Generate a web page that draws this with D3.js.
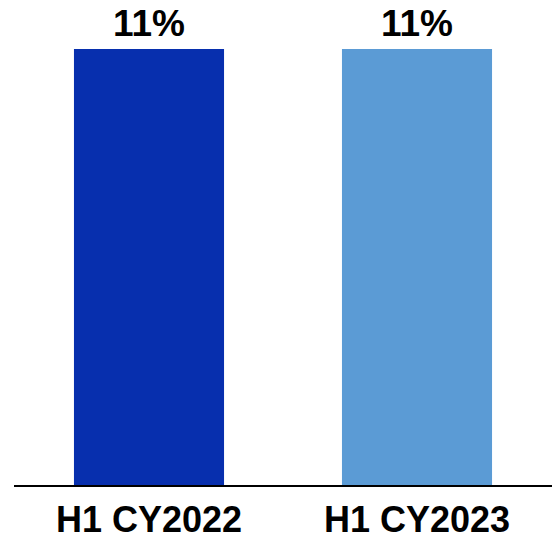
<!DOCTYPE html>
<html>
<head>
<meta charset="utf-8">
<script src="https://cdn.jsdelivr.net/npm/d3@7"></script>
<style>
  html, body { margin: 0; padding: 0; background: #fff; }
  svg { display: block; font-family: "Liberation Sans", Arial, sans-serif; }
</style>
</head>
<body>
<script>
const categories = ["H1 CY2022", "H1 CY2023"];
const values = [11, 11];
const valueLabels = ["11%", "11%"];
const colors = ["#072FAE", "#5B9BD5"];

const W = 552, H = 540;
const svg = d3.select("body").append("svg").attr("width", W).attr("height", H);

const x = d3.scaleBand().domain(categories).range([15, 551])
  .paddingInner(0.44).paddingOuter(0.22);
const y = d3.scaleLinear().domain([0, 11]).range([485, 49]);

svg.selectAll("rect.bar").data(categories).enter().append("rect")
  .attr("class", "bar")
  .attr("x", d => x(d))
  .attr("width", x.bandwidth())
  .attr("y", (d, i) => y(values[i]))
  .attr("height", (d, i) => y(0) - y(values[i]))
  .attr("fill", (d, i) => colors[i]);

svg.selectAll("text.val").data(categories).enter().append("text")
  .attr("class", "val")
  .attr("x", d => x(d) + x.bandwidth() / 2)
  .attr("y", (d, i) => y(values[i]) - 13)
  .attr("text-anchor", "middle")
  .attr("font-size", 37)
  .attr("font-weight", "bold")
  .attr("fill", "#000")
  .text((d, i) => valueLabels[i]);

const axis = d3.axisBottom(x).tickSize(0).tickPadding(0);
const g = svg.append("g").attr("transform", `translate(0,${y(0)})`).call(axis);
g.select(".domain").remove();
g.append("line").attr("x1", 14).attr("x2", 552).attr("y1", 1).attr("y2", 1)
  .attr("stroke", "#000").attr("stroke-width", 2);
g.selectAll(".tick text")
  .attr("dy", 0)
  .attr("y", 47)
  .attr("font-size", 36)
  .attr("font-weight", "bold")
  .attr("font-family", "\"Liberation Sans\", Arial, sans-serif")
  .attr("fill", "#000");
</script>
</body>
</html>
